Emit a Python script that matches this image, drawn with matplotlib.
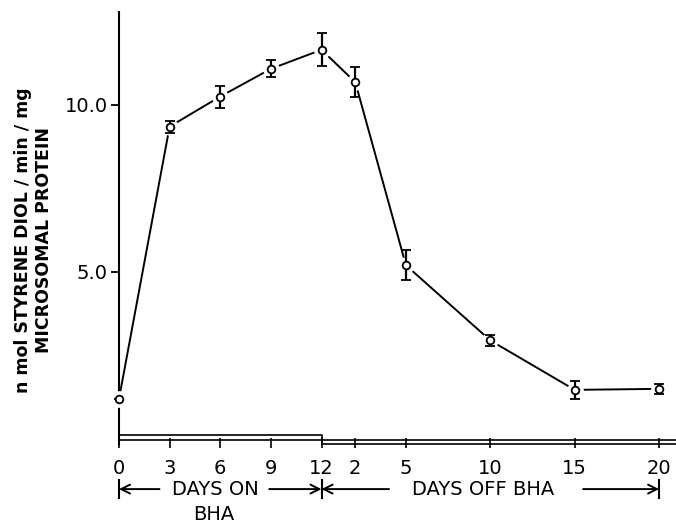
import matplotlib.pyplot as plt
import matplotlib.transforms as mtransforms

# day index: days on BHA (0-12), then 12 + days off BHA
days = [0, 3, 6, 9, 12, 14, 17, 22, 27, 32]
activity = [1.2, 9.35, 10.25, 11.08, 11.65, 10.68, 5.2, 2.95, 1.47, 1.5]
err = [0.0, 0.18, 0.33, 0.25, 0.5, 0.45, 0.45, 0.17, 0.27, 0.16]
tick_labels = ['0', '3', '6', '9', '12', '2', '5', '10', '15', '20']

plt.rcParams['font.family'] = ['DejaVu Sans']

fig = plt.figure(figsize=(6.76, 5.23), dpi=100)
ax = fig.add_axes([0.176, 0.153, 0.824, 0.824])

ax.plot(days, activity, color='black', lw=1.4, zorder=2, clip_on=False)
ax.plot(days, activity, 'o', ms=11, color='white', zorder=3, clip_on=False)
ax.errorbar(days, activity, yerr=err, fmt='o', ms=5.5, mfc='white', mec='black',
            mew=1.3, ecolor='black', elinewidth=1.6, capsize=3.5, capthick=1.8,
            zorder=4, clip_on=False)

ax.set_xlim(0, 33)
ax.set_ylim(-0.12, 12.78)

# bar along the time axis, stepping down after day 12
ax.plot([0, 12, 12, 33], [0.12, 0.12, -0.03, -0.03], color='black', lw=1.2, clip_on=False)
ax.plot([0, 12, 12, 33], [-0.03, -0.03, -0.15, -0.15], color='black', lw=1.2, clip_on=False)

for s in ['top', 'right', 'bottom']:
    ax.spines[s].set_visible(False)
ax.spines['left'].set_linewidth(1.5)
ax.spines['left'].set_bounds(-0.15, 12.78)

ax.set_yticks([5.0, 10.0])
ax.set_yticklabels(['5.0', '10.0'])
ax.set_xticks(days)
ax.set_xticklabels(tick_labels)
ax.tick_params(axis='y', direction='out', length=6, width=1.3, labelsize=14, pad=2)
ax.tick_params(axis='x', direction='inout', length=7, width=1.2, labelsize=14, pad=8)

ax.set_ylabel('n mol STYRENE DIOL / min / mg\nMICROSOMAL PROTEIN',
              fontsize=12.5, fontweight='bold', linespacing=1.2)
ax.yaxis.set_label_coords(-0.118, 0.47)

trans = mtransforms.blended_transform_factory(ax.transData, ax.transAxes)
yb = -0.107
arrow = dict(arrowstyle='->', lw=1.4, color='black', shrinkA=0, shrinkB=0, mutation_scale=16)
ax.annotate('', xy=(0, yb), xytext=(2.4, yb), xycoords=trans, textcoords=trans, arrowprops=arrow)
ax.annotate('', xy=(12, yb), xytext=(8.9, yb), xycoords=trans, textcoords=trans, arrowprops=arrow)
ax.annotate('', xy=(12, yb), xytext=(16.0, yb), xycoords=trans, textcoords=trans, arrowprops=arrow)
ax.annotate('', xy=(32, yb), xytext=(27.5, yb), xycoords=trans, textcoords=trans, arrowprops=arrow)
for xv in [0, 12, 32]:
    ax.plot([xv, xv], [yb - 0.02, yb + 0.02], color='black', lw=1.5, transform=trans, clip_on=False)

ax.text(5.7, yb, 'DAYS ON', transform=trans, ha='center', va='center', fontsize=14)
ax.text(5.6, -0.165, 'BHA', transform=trans, ha='center', va='center', fontsize=14)
ax.text(21.6, yb, 'DAYS OFF BHA', transform=trans, ha='center', va='center', fontsize=14)

fig.savefig('out.png', dpi=100)
